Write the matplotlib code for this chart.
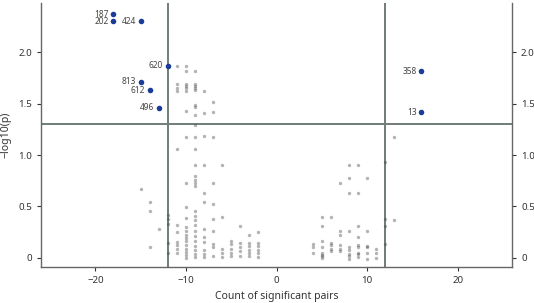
import matplotlib
matplotlib.use("Agg")
import matplotlib.pyplot as plt

plt.rcParams['font.family'] = ['Noto Sans', 'DejaVu Sans']

# grey points: count -> list of -log10(p)
grey_cols = {
    -15: [0.67],
    -14: [0.54, 0.46, 0.10],
    -13: [0.28],
    -12: [0.42, 0.38, 0.33, 0.14, 0.05],
    -11: [1.87, 1.69, 1.65, 1.62, 1.06, 0.32, 0.25, 0.15, 0.12, 0.085, 0.045],
    -10: [1.87, 1.82, 1.69, 1.67, 1.65, 1.62, 1.43, 1.18, 0.73, 0.49, 0.39, 0.30, 0.26,
          0.22, 0.19, 0.16, 0.12, 0.09, 0.06, 0.03, 0.0],
    -9: [1.82, 1.69, 1.67, 1.65, 1.63, 1.49, 1.47, 1.39, 1.29, 1.18, 1.06, 0.90, 0.80,
         0.76, 0.73, 0.70, 0.46, 0.41, 0.37, 0.32, 0.26, 0.21, 0.16, 0.11, 0.08, 0.04, 0.01],
    -8: [1.62, 1.41, 1.19, 0.90, 0.635, 0.54, 0.28, 0.20, 0.15, 0.08, 0.04, 0.01],
    -7: [1.52, 1.42, 1.18, 0.73, 0.52, 0.375, 0.26, 0.13, 0.10, 0.02],
    -6: [0.90, 0.40, 0.09, 0.05, 0.01],
    -5: [0.16, 0.13, 0.09, 0.05, 0.02],
    -4: [0.31, 0.14, 0.10, 0.07, 0.02],
    -3: [0.22, 0.14, 0.11, 0.08, 0.05, 0.02],
    -2: [0.25, 0.14, 0.11, 0.08, 0.05, 0.01],
    4: [0.13, 0.10, 0.05],
    5: [0.40, 0.31, 0.16, 0.10, 0.05, 0.03, 0.02, 0.0],
    6: [0.395, 0.14, 0.12, 0.09, 0.07],
    7: [0.73, 0.26, 0.22, 0.12, 0.09, 0.07],
    8: [0.90, 0.78, 0.635, 0.26, 0.10, 0.08, 0.04, 0.02, -0.01],
    9: [0.90, 0.635, 0.31, 0.20, 0.12, 0.10, 0.05, 0.04, 0.01],
    10: [0.78, 0.26, 0.11, 0.10, 0.05, -0.01],
    11: [0.085, 0.05, 0.0],
    12: [0.935, 0.375, 0.31, 0.13],
    13: [1.18, 0.37],
}

# highlighted points
hi_labels = ['187', '202', '424', '620', '813', '612', '496', '358', '13']
hi_x = [-18, -18, -15, -12, -15, -14, -13, 16, 16]
hi_y = [2.37, 2.30, 2.30, 1.87, 1.715, 1.63, 1.46, 1.815, 1.415]

x_ticks = [-20, -10, 0, 10, 20]
y_ticks = [0, 0.5, 1.0, 1.5, 2.0]
y_ticklabels = ['0', '0.5', '1.0', '1.5', '2.0']

grey_x = [k for k, v in grey_cols.items() for _ in v]
grey_y = [y for v in grey_cols.values() for y in v]

fig = plt.figure(figsize=(5.34, 3.03), dpi=100)
ax = fig.add_axes([41 / 534, 36 / 303, 471 / 534, 264 / 303])

line_col = '#6f7d76'
ax.axvline(-12, color=line_col, lw=1.4, zorder=1)
ax.axvline(12, color=line_col, lw=1.4, zorder=1)
ax.axhline(1.301, color=line_col, lw=1.4, zorder=1)

ax.scatter(grey_x, grey_y, s=6, color='#444444', alpha=0.4, linewidths=0, zorder=2)
ax.scatter(hi_x, hi_y, s=16, color='#1a3c96', linewidths=0, zorder=3)
for lab, x, y in zip(hi_labels, hi_x, hi_y):
    ax.text(x - 0.55, y, lab, ha='right', va='center', fontsize=6, color='#444444')

ax.set_xlim(-26, 26)
ax.set_ylim(-0.09, 2.48)
ax.set_xticks(x_ticks)
ax.set_yticks(y_ticks)
ax.set_yticklabels(y_ticklabels)
ax.tick_params(axis='both', labelsize=7, colors='#333333', length=3, width=0.8)
ax.tick_params(axis='y', right=True, labelright=True)

for side in ['left', 'bottom', 'right']:
    ax.spines[side].set_color('#666666')
    ax.spines[side].set_linewidth(1.0)
ax.spines['top'].set_visible(False)

ax.set_xlabel('Count of significant pairs', fontsize=7.5, color='#333333', labelpad=4)
ax.set_ylabel('\u2212log10(p)', fontsize=7.5, color='#333333', labelpad=5)

fig.savefig('out.png', dpi=100)
